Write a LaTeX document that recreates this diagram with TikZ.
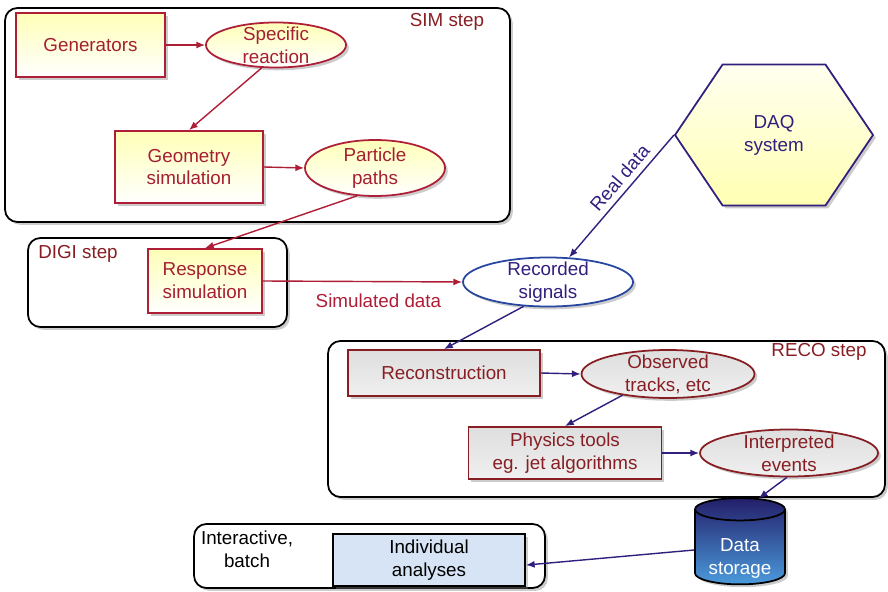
\documentclass[tikz,border=0pt]{standalone}
\usepackage{fontspec}
\setmainfont{Liberation Sans}
\usepackage{tikz}
\usetikzlibrary{arrows.meta, positioning, shapes.geometric, shapes.symbols, shadows}

\definecolor{simred}{RGB}{175,30,55}
\definecolor{simtext}{RGB}{165,30,50}
\definecolor{recored}{RGB}{135,30,35}
\definecolor{navy}{RGB}{50,30,125}
\definecolor{sigblue}{RGB}{40,70,160}
\definecolor{anablue}{RGB}{214,228,246}
\definecolor{stortop}{RGB}{35,30,105}
\definecolor{storbot}{RGB}{75,155,220}

\begin{document}
\begin{tikzpicture}[
    x=0.02cm, y=-0.02cm,
    font=\fontsize{10.7}{13}\selectfont,
    shade/.style={drop shadow={shadow xshift=1.6pt, shadow yshift=-1.6pt, opacity=0.4}},
    stepbox/.style={draw=black, line width=1pt, rounded corners=7pt, fill=white, shade},
    steplabel/.style={text=recored},
    simnode/.style={draw=simred, line width=1pt, top color=yellow!28, bottom color=white,
        text=simtext, align=center, shade},
    simoval/.style={ellipse, draw=simred, line width=1pt, top color=yellow!28, bottom color=white,
        inner sep=0pt, shade},
    simtxt/.style={text=simtext, align=center},
    reconode/.style={draw=recored, line width=1pt, top color=black!13, bottom color=black!6,
        text=recored, align=center, shade},
    recooval/.style={ellipse, draw=recored, line width=1pt, top color=black!13, bottom color=black!6,
        inner sep=0pt, shade},
    recotxt/.style={text=recored, align=center},
    redarrow/.style={-{Latex[length=5pt, width=4pt]}, line width=0.8pt, draw=simred},
    bluearrow/.style={-{Latex[length=5pt, width=4pt]}, line width=0.8pt, draw=navy}
]
\useasboundingbox (0,0) rectangle (888,591);

% Step boxes in the background
\node[stepbox, minimum width=10.1cm, minimum height=4.28cm] (simstep) at (257.5,115) {};
\node[stepbox, minimum width=5.18cm, minimum height=1.78cm] (digistep) at (157.5,282.5) {};
\node[stepbox, minimum width=11.14cm, minimum height=3.12cm] (recostep) at (606.5,419) {};
\node[stepbox, minimum width=7.02cm, minimum height=1.28cm] (anastep) at (369.5,556) {};

\node[steplabel] (simlabel) at (447,22) {SIM step};
\node[steplabel] (digilabel) at (78,254) {DIGI step};
\node[steplabel] (recolabel) at (819,352) {RECO step};
\node[align=center] (analabel) at (247,549) {Interactive,\\batch};

% SIM step
\node[simnode, minimum width=2.98cm, minimum height=1.28cm] (gen) at (90.5,45) {Generators};
\node[simoval, minimum width=2.8cm, minimum height=0.9cm,
    label={[simtxt]center:Specific\\reaction}] (spec) at (276,45) {};
\node[simnode, minimum width=2.96cm, minimum height=1.44cm] (geo) at (189,167) {Geometry\\simulation};
\node[simoval, minimum width=2.8cm, minimum height=1.12cm,
    label={[simtxt]center:Particle\\paths}] (paths) at (375,168) {};

% DIGI step
\node[simnode, minimum width=2.28cm, minimum height=1.28cm] (resp) at (205,281) {Response\\simulation};

% Signals and DAQ
\node[ellipse, draw=sigblue, line width=1pt, fill=white, inner sep=0pt, shade,
    minimum width=3.4cm, minimum height=0.98cm,
    label={[text=navy, align=center]center:Recorded\\signals}] (rec) at (548,282) {};
\node[signal, signal to=west and east, signal pointer angle=112, draw=navy, line width=1pt,
    top color=yellow!6, bottom color=yellow!30, text=navy, align=center, shade,
    minimum width=3.96cm, minimum height=2.82cm] (daq) at (774,135) {DAQ\\system};

% RECO step
\node[reconode, minimum width=3.84cm, minimum height=0.92cm] (reco) at (444,373) {Reconstruction};
\node[recooval, minimum width=3.46cm, minimum height=0.96cm,
    label={[recotxt]center:Observed\\tracks, etc}] (obs) at (668,374) {};
\node[reconode, minimum width=3.86cm, minimum height=0.92cm] (phys) at (565,453) {Physics tools\\eg. jet algorithms};
\node[recooval, minimum width=3.56cm, minimum height=0.94cm,
    label={[recotxt]center:Interpreted\\events}] (interp) at (789,453) {};

% Storage and analyses
\node[cylinder, shape border rotate=90, aspect=0.3, draw=black, line width=1pt,
    top color=stortop, bottom color=storbot, text=white, shade,
    minimum width=1.8cm, minimum height=1.1cm] (store) at (740,550)
    {\raisebox{-5pt}[\height][\depth]{\begin{tabular}{@{}c@{}}Data\\storage\end{tabular}}};
\node[draw=black, line width=1pt, fill=anablue, align=center, shade,
    minimum width=3.84cm, minimum height=0.92cm] (ana) at (429,560) {Individual\\analyses};

% Simulation chain
\draw[redarrow] (gen.east) -- (spec.west);
\draw[redarrow] (spec.238) -- (geo.north);
\draw[redarrow] (geo.east) -- (paths.west);
\draw[redarrow] (paths.237) -- (resp.north);
\draw[redarrow] (resp.east) -- node[below=3pt, pos=0.58, text=simred] {Simulated data} (rec.west);
% Real data
\draw[bluearrow] (daq.west) -- node[sloped, above, pos=0.42, text=navy] {Real data} (rec);
% Reconstruction chain
\draw[bluearrow] (rec.225) -- (reco.north);
\draw[bluearrow] (reco.east) -- (obs.west);
\draw[bluearrow] (obs.205) -- (phys.north);
\draw[bluearrow] (phys.east) -- (interp.west);
\draw[bluearrow] (interp.265) -- (store.70);
\draw[bluearrow] (store.west) -- (ana.-3);

\end{tikzpicture}
\end{document}
